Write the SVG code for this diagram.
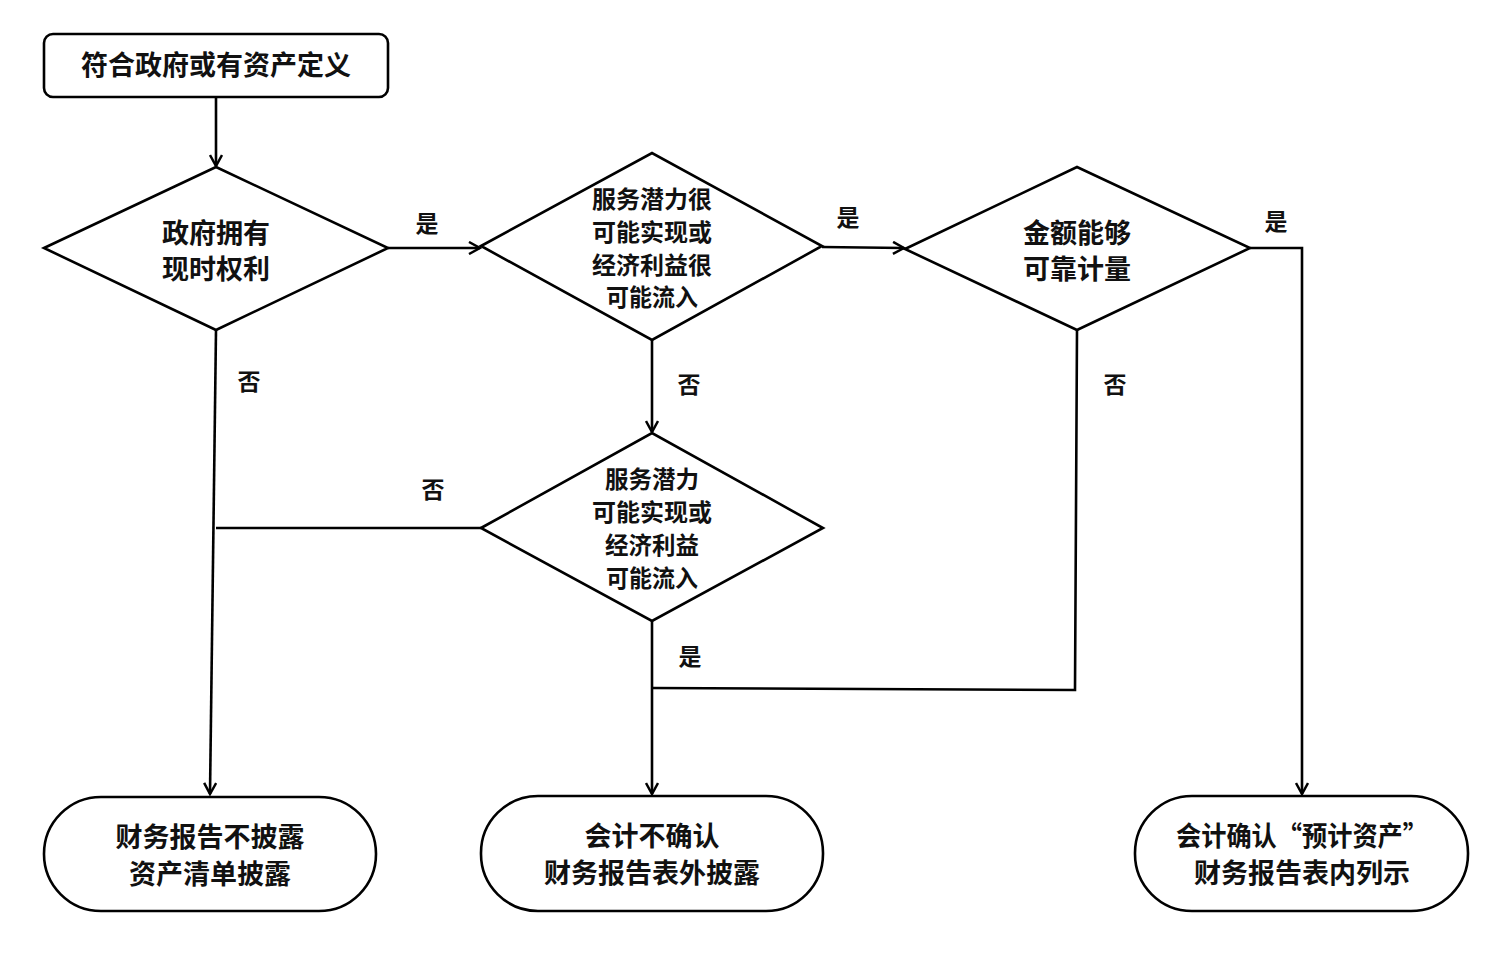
<svg xmlns="http://www.w3.org/2000/svg" width="1509" height="953" viewBox="0 0 1509 953">
<defs>
<marker id="arr" markerWidth="14" markerHeight="14" refX="12" refY="7" orient="auto" markerUnits="userSpaceOnUse">
<path d="M1,1 L12,7 L1,13" fill="none" stroke="#000" stroke-width="2.5"/>
</marker>
<style>
.s{fill:#fff;stroke:#000;stroke-width:2.6}
.c{fill:none;stroke:#000;stroke-width:2.6}
.t{font-family:"Noto Sans CJK SC","Noto Sans CJK JP",sans-serif;font-weight:bold;fill:#111;text-anchor:middle;dominant-baseline:central}
.l{font-size:27px}
.m{font-size:24px}
.lab{font-family:"Noto Sans CJK SC",sans-serif;font-weight:bold;font-size:23px;fill:#111;text-anchor:middle;dominant-baseline:central}
</style>
</defs>
<rect width="1509" height="953" fill="#fff"/>
<g id="connectors">
<path class="c" d="M216,97 L216,166" marker-end="url(#arr)"/>
<path class="c" d="M388,248 L480,248" marker-end="url(#arr)"/>
<path class="c" d="M822,247 L904,248" marker-end="url(#arr)"/>
<path class="c" d="M1250,248 L1302,248 L1302,794" marker-end="url(#arr)"/>
<path class="c" d="M652,340 L652,432" marker-end="url(#arr)"/>
<path class="c" d="M481,528 L216,528"/>
<path class="c" d="M216,330 L210,794" marker-end="url(#arr)"/>
<path class="c" d="M652,621 L652,794" marker-end="url(#arr)"/>
<path class="c" d="M1077,330 L1075,690 L652,688"/>
<text class="lab" x="427" y="222">是</text>
<text class="lab" x="848" y="216">是</text>
<text class="lab" x="1276" y="220">是</text>
<text class="lab" x="249" y="380">否</text>
<text class="lab" x="689" y="383">否</text>
<text class="lab" x="1115" y="383">否</text>
<text class="lab" x="433" y="488">否</text>
<text class="lab" x="690" y="655">是</text>
</g>
<g id="start">
<rect class="s" x="44" y="34" width="344" height="63" rx="9"/>
<text class="t l" x="216" y="63">符合政府或有资产定义</text>
</g>
<g id="d1">
<polygon class="s" points="44,248 216,167 388,248 216,330"/>
<text class="t l" x="216" y="231">政府拥有</text>
<text class="t l" x="216" y="267">现时权利</text>
</g>
<g id="d2">
<polygon class="s" points="481,246 652,153 822,246 652,340"/>
<text class="t m" x="652" y="197" textLength="120" lengthAdjust="spacingAndGlyphs">服务潜力很</text>
<text class="t m" x="652" y="230" textLength="120" lengthAdjust="spacingAndGlyphs">可能实现或</text>
<text class="t m" x="652" y="263" textLength="120" lengthAdjust="spacingAndGlyphs">经济利益很</text>
<text class="t m" x="652" y="295" textLength="92" lengthAdjust="spacingAndGlyphs">可能流入</text>
</g>
<g id="d3">
<polygon class="s" points="905,249 1077,167 1250,248 1077,330"/>
<text class="t l" x="1077" y="231">金额能够</text>
<text class="t l" x="1077" y="267">可靠计量</text>
</g>
<g id="d4">
<polygon class="s" points="481,528 652,433 823,528 652,621"/>
<text class="t m" x="652" y="477" textLength="94" lengthAdjust="spacingAndGlyphs">服务潜力</text>
<text class="t m" x="652" y="510" textLength="120" lengthAdjust="spacingAndGlyphs">可能实现或</text>
<text class="t m" x="652" y="543" textLength="94" lengthAdjust="spacingAndGlyphs">经济利益</text>
<text class="t m" x="652" y="576" textLength="92" lengthAdjust="spacingAndGlyphs">可能流入</text>
</g>
<g id="end1">
<rect class="s" x="44" y="797" width="332" height="114" rx="57"/>
<text class="t l" x="210" y="835">财务报告不披露</text>
<text class="t l" x="210" y="872">资产清单披露</text>
</g>
<g id="end2">
<rect class="s" x="481" y="796" width="342" height="115" rx="57"/>
<text class="t l" x="652" y="834">会计不确认</text>
<text class="t l" x="652" y="871">财务报告表外披露</text>
</g>
<g id="end3">
<rect class="s" x="1135" y="796" width="333" height="115" rx="57"/>
<text class="t l" x="1302" y="834" textLength="252" lengthAdjust="spacingAndGlyphs">会计确认“预计资产”</text>
<text class="t l" x="1302" y="871">财务报告表内列示</text>
</g>
</svg>
